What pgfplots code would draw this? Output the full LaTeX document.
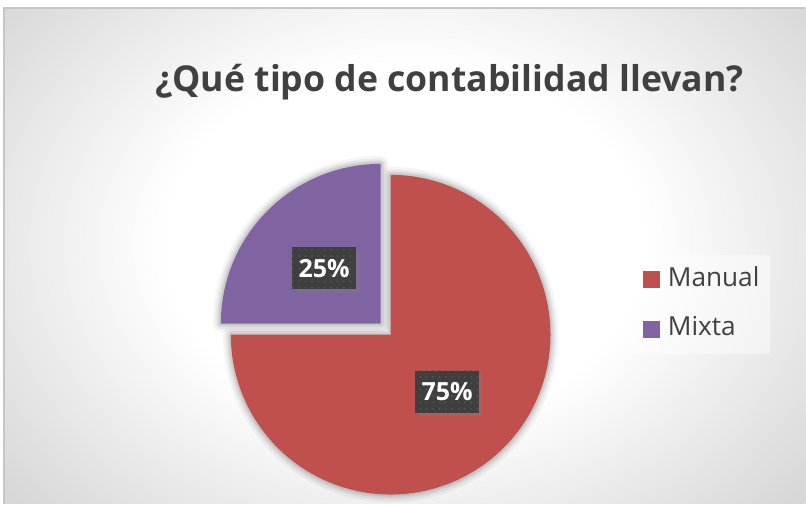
\documentclass[border=0pt]{standalone}
\usepackage{pgfplots}
\usepackage{pgfplotstable}
\pgfplotsset{compat=1.18}
\usepackage{fontspec}
\setmainfont{Open Sans}
\usetikzlibrary{shadows,patterns.meta}
\definecolor{manual}{HTML}{C0504D}
\definecolor{mixta}{HTML}{8064A2}
\definecolor{txt}{HTML}{404040}
\definecolor{lblbox}{HTML}{3F3F3F}
\definecolor{lbldot}{HTML}{585858}
\pgfdeclareradialshading{bgshade}{\pgfpoint{0bp}{0bp}}{color(0bp)=(white); color(15bp)=(white); color(26bp)=(white!90!black); color(36bp)=(white!81!black); color(50bp)=(white!74!black)}

\pgfplotstableread{
cat value
Manual 75
Mixta 25
}\piedata
\pgfplotstablegetelem{0}{value}\of\piedata \let\vManual\pgfplotsretval
\pgfplotstablegetelem{1}{value}\of\piedata \let\vMixta\pgfplotsretval

\pgfplotsset{
  shd/.style 2 args={forget plot, draw=black, draw opacity=#2, line width=#1*0.4224pt, line join=round, fill=none},
  manualslice/.style={domain=90:90-3.6*\vManual, samples=181, variable=\t},
  mixtaslice/.style={domain=180:180-3.6*\vMixta, samples=91, variable=\t},
}

\begin{document}
\begin{tikzpicture}
\begin{axis}[
  scale only axis, width=12cm, height=7.5037cm,
  xmin=0, xmax=806, ymin=0, ymax=504,
  axis lines=none, ticks=none, clip=false,
  legend image code/.code={\path[#1, fill opacity=1] (0pt,-3.6pt) rectangle (7.2pt,3.6pt);},
  legend style={at={(axis cs:632,149)}, anchor=south west,
    fill=white, fill opacity=0.45, text opacity=1, draw=none,
    font=\fontsize{11.1}{13}\selectfont, text=txt,
    inner xsep=4.65pt, inner ysep=5.3pt, row sep=10.6pt,
    nodes={inner sep=0pt, text height=8pt, text depth=2.5pt},
    /tikz/every odd column/.append style={column sep=3.4pt}},
  legend cell align=left,
]
% background
\fill[white] (axis cs:0,0) rectangle (axis cs:806,504);
\begin{scope}
\clip (axis cs:4,0) rectangle (axis cs:806,496);
\shade[shading=bgshade] (axis cs:4,-40) rectangle (axis cs:806,560);
\end{scope}
\draw[gray!45, line width=0.6pt] (axis cs:4,0) -- (axis cs:4,496) -- (axis cs:806,496);

% soft shadows
\addplot[shd={16}{0.04}, manualslice] ({391+160*cos(\t)}, {169+160*sin(\t)}) -- (axis cs:391,169) -- cycle;
\addplot[shd={11}{0.05}, manualslice] ({391+160*cos(\t)}, {169+160*sin(\t)}) -- (axis cs:391,169) -- cycle;
\addplot[shd={7}{0.06}, manualslice] ({391+160*cos(\t)}, {169+160*sin(\t)}) -- (axis cs:391,169) -- cycle;
\addplot[shd={4}{0.07}, manualslice] ({391+160*cos(\t)}, {169+160*sin(\t)}) -- (axis cs:391,169) -- cycle;
\addplot[shd={16}{0.04}, mixtaslice] ({381+160*cos(\t)}, {180+160*sin(\t)}) -- (axis cs:381,180) -- cycle;
\addplot[shd={11}{0.05}, mixtaslice] ({381+160*cos(\t)}, {180+160*sin(\t)}) -- (axis cs:381,180) -- cycle;
\addplot[shd={7}{0.06}, mixtaslice] ({381+160*cos(\t)}, {180+160*sin(\t)}) -- (axis cs:381,180) -- cycle;
\addplot[shd={4}{0.07}, mixtaslice] ({381+160*cos(\t)}, {180+160*sin(\t)}) -- (axis cs:381,180) -- cycle;

% slices
\addplot[fill=manual, draw=none, manualslice]
  ({391+160*cos(\t)}, {169+160*sin(\t)}) -- (axis cs:391,169) -- cycle;
\addlegendentry{Manual}
\addplot[fill=mixta, draw=none, mixtaslice]
  ({381+160*cos(\t)}, {180+160*sin(\t)}) -- (axis cs:381,180) -- cycle;
\addlegendentry{Mixta}

% title
\node[anchor=base, font=\bfseries\fontsize{15.1}{18}\selectfont, text=txt]
  at (axis cs:450,412) {¿Qué tipo de contabilidad llevan?};

% data labels
\tikzset{lbl/.style={fill=lblbox, text=white, font=\bfseries\fontsize{10.6}{13}\selectfont,
  minimum width=27pt, minimum height=17.7pt, inner sep=0pt,
  drop shadow={shadow xshift=1.5pt, shadow yshift=-1.5pt, opacity=0.35},
  postaction={pattern={Dots[distance=2.7pt, radius=0.4pt]}, pattern color=lbldot}}}
\node[lbl] at (axis cs:447.5,112) {\vManual\%};
\node[lbl] at (axis cs:324.5,235.5) {\vMixta\%};
\end{axis}
\end{tikzpicture}
\end{document}
